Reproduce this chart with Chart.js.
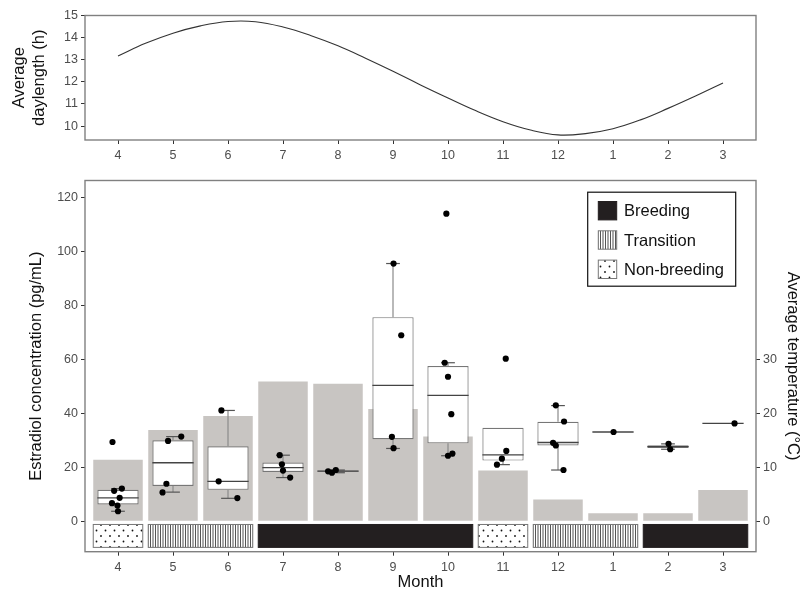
<!DOCTYPE html>
<html>
<head>
<meta charset="utf-8">
<script src="https://cdn.jsdelivr.net/npm/chart.js@4.4.1/dist/chart.umd.min.js"></script>
<style>
  html, body { margin: 0; padding: 0; background: #fff; }
  #wrap { position: relative; width: 806px; height: 592px; }
  #dayWrap { position: absolute; left: 0; top: 0; width: 806px; height: 170px; }
  #mainWrap { position: absolute; left: 0; top: 170px; width: 806px; height: 422px; }
</style>
</head>
<body>
<div id="wrap">
  <div id="dayWrap"><canvas id="dayChart"></canvas></div>
  <div id="mainWrap"><canvas id="mainChart"></canvas></div>
</div>
<script>
// Months on the x axis, April .. March
const months = ['4', '5', '6', '7', '8', '9', '10', '11', '12', '1', '2', '3'];

const dayPos = [0, 0.5, 1, 1.5, 2, 2.5, 3, 3.5, 4, 4.5, 5, 5.5, 6, 6.5, 7, 7.5, 8, 8.5, 9, 9.5, 10, 10.5, 11];
const dayLength = [13.17, 13.74, 14.2, 14.53, 14.73, 14.72, 14.48, 14.1, 13.63, 13.07, 12.48, 11.86,
                   11.27, 10.7, 10.2, 9.82, 9.6, 9.66, 9.88, 10.28, 10.8, 11.36, 11.95];
const dayTicks = [10, 11, 12, 13, 14, 15];

// Bottom panel: average temperature (°C), grey bars on the right axis
const temperature = [11.4, 16.9, 19.5, 25.9, 25.5, 20.8, 15.7, 9.4, 4.05, 1.5, 1.5, 5.8];
const tempTicks = [0, 10, 20, 30];

// Estradiol (pg/mL) box summaries per month
const e2Ticks = [0, 20, 40, 60, 80, 100, 120];
const boxQ1  = [6.25, 13.1, 11.65, 18.3, 18.4, 30.4, 28.9, 22.5, 28.1, 33.1, 27.2, 36.3];
const boxMed = [8.7, 21.7, 14.8, 19.9, 18.6, 50.4, 46.7, 24.6, 29.2, 33.1, 27.7, 36.3];
const boxQ3  = [11.65, 30.0, 27.8, 21.8, 18.8, 75.7, 57.6, 34.7, 36.9, 33.1, 28.2, 36.3];
const whiskLo = [3.7, 10.8, 8.5, 16.2, 18.0, 27.0, 24.3, 21.0, 19.0, null, 26.7, null];
const whiskHi = [12.1, 31.4, 41.1, 24.5, 19.0, 95.6, 58.8, null, 42.9, null, 28.7, null];

// Individual samples and their horizontal jitter (in months)
const e2Samples = [
  [29.4, 11.3, 12.1, 8.7, 6.7, 5.8, 3.7],
  [29.8, 31.4, 13.9, 10.7],
  [41.1, 14.8, 8.6],
  [24.5, 21.1, 18.8, 16.2],
  [18.5, 18.0, 19.0],
  [95.6, 69.0, 31.3, 27.1],
  [114.1, 58.8, 53.6, 39.7, 25.1, 24.3],
  [60.3, 26.1, 23.2, 21.0],
  [43.0, 37.0, 29.1, 28.1, 19.0],
  [33.1],
  [28.7, 26.7],
  [36.3]
];
const e2Jitter = [
  [-0.10, -0.07, 0.07, 0.03, -0.11, -0.01, 0.0],
  [-0.09, 0.15, -0.12, -0.19],
  [-0.12, -0.17, 0.17],
  [-0.06, -0.02, 0.0, 0.13],
  [-0.18, -0.11, -0.04],
  [0.01, 0.15, -0.02, 0.01],
  [-0.03, -0.06, 0.0, 0.06, 0.08, 0.0],
  [0.05, 0.06, -0.02, -0.11],
  [-0.04, 0.11, -0.09, -0.04, 0.10],
  [0.01],
  [0.01, 0.04],
  [0.21]
];

// Reproductive season strip under the bars (month index ranges)
const seasonNames = ['Breeding', 'Transition', 'Non-breeding'];
const seasonFrom = [0, 1, 3, 7, 8, 10];
const seasonTo = [0, 2, 6, 7, 9, 11];
const seasonKind = ['Non-breeding', 'Transition', 'Breeding', 'Non-breeding', 'Transition', 'Breeding'];

const FONT = '"Liberation Sans", Arial, Helvetica, sans-serif';
Chart.defaults.font.family = FONT;
const tickFont = { size: 12.5, family: FONT };
const titleFont = { size: 16.5, family: FONT };
const tickColor = '#4d4d4d';
const titleColor = '#111';
const barGrey = '#c8c5c2';
const breedingColor = '#231f20';

function fixedSize(size) {
    return function (scale) {
        if (scale.isHorizontal()) scale.height = size;
        else scale.width = size;
    };
}

function ticksAt(values) {
    return function (scale) {
        scale.ticks = values.map(v => ({ value: v }));
    };
}

function monthAxis(height, title) {
    return {
        type: 'linear',
        min: -0.6,
        max: 11.6,
        offset: false,
        afterBuildTicks: ticksAt(months.map((m, i) => i)),
        afterFit: fixedSize(height),
        ticks: {
            callback: v => months[Math.round(v)],
            color: tickColor,
            font: tickFont,
            padding: 4,
            maxRotation: 0,
            autoSkip: false
        },
        grid: { offset: false, drawOnChartArea: false, tickLength: 4, color: '#333' },
        border: { display: false },
        title: title ? { display: true, text: title, font: titleFont, color: titleColor, padding: { top: 0, bottom: 0 } } : { display: false }
    };
}

function valueAxis(position, min, max, ticks, width, title, pad) {
    return {
        type: 'linear',
        position: position,
        min: min,
        max: max,
        afterBuildTicks: ticksAt(ticks),
        afterFit: fixedSize(width),
        ticks: { color: tickColor, font: tickFont, padding: 3 },
        grid: { drawOnChartArea: false, tickLength: 4, color: '#333' },
        border: { display: false },
        title: { display: true, text: title, font: titleFont, color: titleColor, padding: { top: pad, bottom: 0 } }
    };
}

// Grey frame round the plotting area
const panelBorder = {
    id: 'panelBorder',
    afterDatasetsDraw(chart) {
        const { ctx, chartArea: a } = chart;
        ctx.save();
        ctx.strokeStyle = '#808080';
        ctx.lineWidth = 1.4;
        ctx.strokeRect(a.left, a.top, a.right - a.left, a.bottom - a.top);
        ctx.restore();
    }
};

function makePattern(kind) {
    if (kind === 'Breeding') return breedingColor;
    const c = document.createElement('canvas');
    const g = c.getContext('2d');
    if (kind === 'Transition') {
        c.width = 5; c.height = 10;
        g.fillStyle = '#fff';
        g.fillRect(0, 0, 5, 10);
        g.fillStyle = '#555';
        g.fillRect(0, 0, 1, 10);
        g.fillRect(2.5, 0, 1, 10);
    } else {
        c.width = 9; c.height = 11;
        g.fillStyle = '#fff';
        g.fillRect(0, 0, 9, 11);
        g.fillStyle = '#111';
        g.beginPath();
        g.arc(2, 3, 0.9, 0, Math.PI * 2);
        g.arc(6.5, 8.5, 0.9, 0, Math.PI * 2);
        g.fill();
    }
    return g.createPattern(c, 'repeat');
}

const seasonFill = {};
seasonNames.forEach(n => { seasonFill[n] = makePattern(n); });

// Season strip below zero
const seasonStrip = {
    id: 'seasonStrip',
    afterDatasetsDraw(chart) {
        const { ctx } = chart;
        const x = chart.scales.x, y = chart.scales.y;
        const top = y.getPixelForValue(-1.2), bottom = y.getPixelForValue(-9.7);
        ctx.save();
        seasonFrom.forEach((from, i) => {
            const x0 = x.getPixelForValue(from - 0.45);
            const x1 = x.getPixelForValue(seasonTo[i] + 0.45);
            ctx.fillStyle = seasonFill[seasonKind[i]];
            ctx.fillRect(x0, top, x1 - x0, bottom - top);
            ctx.strokeStyle = seasonKind[i] === 'Breeding' ? breedingColor : '#777';
            ctx.lineWidth = 1;
            ctx.strokeRect(x0, top, x1 - x0, bottom - top);
        });
        ctx.restore();
    }
};

// Medians and whiskers, drawn right after the box bars
const boxWhiskers = {
    id: 'boxWhiskers',
    afterDatasetDraw(chart, args) {
        if (chart.data.datasets[args.index].label !== 'box') return;
        const { ctx } = chart;
        const x = chart.scales.x, y = chart.scales.y;
        const step = x.getPixelForValue(1) - x.getPixelForValue(0);
        const half = step * 0.75 / 2, cap = step * 0.125;
        ctx.save();
        months.forEach((m, i) => {
            const cx = x.getPixelForValue(i);
            const ends = [[whiskLo[i], boxQ1[i]], [whiskHi[i], boxQ3[i]]];
            ends.forEach(([w, edge]) => {
                if (w === null) return;
                const wy = y.getPixelForValue(w), ey = y.getPixelForValue(edge);
                ctx.strokeStyle = '#8a8a8a';
                ctx.lineWidth = 1.2;
                ctx.beginPath();
                ctx.moveTo(cx, ey);
                ctx.lineTo(cx, wy);
                ctx.stroke();
                ctx.strokeStyle = '#555';
                ctx.beginPath();
                ctx.moveTo(cx - cap, wy);
                ctx.lineTo(cx + cap, wy);
                ctx.stroke();
            });
            const my = y.getPixelForValue(boxMed[i]);
            ctx.strokeStyle = '#444';
            ctx.lineWidth = 1.3;
            ctx.beginPath();
            ctx.moveTo(cx - half, my);
            ctx.lineTo(cx + half, my);
            ctx.stroke();
        });
        ctx.restore();
    }
};

// Legend box inside the top-right corner
const seasonLegend = {
    id: 'seasonLegend',
    afterDraw(chart) {
        const { ctx, chartArea: a } = chart;
        const w = 148, h = 94;
        const x0 = a.right - 20.3 - w, y0 = a.top + 11.7;
        ctx.save();
        ctx.fillStyle = '#fff';
        ctx.fillRect(x0, y0, w, h);
        ctx.strokeStyle = '#111';
        ctx.lineWidth = 1.2;
        ctx.strokeRect(x0, y0, w, h);
        ctx.font = '16.5px ' + FONT;
        ctx.textBaseline = 'middle';
        seasonNames.forEach((name, i) => {
            const cy = y0 + 18.5 + i * 29.3;
            ctx.fillStyle = seasonFill[name];
            ctx.fillRect(x0 + 10.6, cy - 9.2, 18.4, 18.4);
            ctx.strokeStyle = name === 'Breeding' ? breedingColor : '#777';
            ctx.lineWidth = 1;
            ctx.strokeRect(x0 + 10.6, cy - 9.2, 18.4, 18.4);
            ctx.fillStyle = titleColor;
            ctx.fillText(name, x0 + 36.3, cy + 1);
        });
        ctx.restore();
    }
};

// ---- top panel ----
new Chart(document.getElementById('dayChart'), {
    type: 'line',
    data: {
        datasets: [{
            data: dayPos.map((p, i) => ({ x: p, y: dayLength[i] })),
            borderColor: '#333',
            borderWidth: 1.1,
            pointRadius: 0,
            tension: 0.4,
            fill: false
        }]
    },
    options: {
        responsive: true,
        maintainAspectRatio: false,
        animation: false,
        layout: { padding: { top: 15.5, right: 50, left: 0, bottom: 0 } },
        plugins: { legend: { display: false }, tooltip: { enabled: false } },
        scales: {
            x: monthAxis(30, null),
            y: valueAxis('left', 9.37, 15, dayTicks, 85, ['Average', 'daylength (h)'], 9.6)
        }
    },
    plugins: [panelBorder]
});

// ---- bottom panel ----
const samplePoints = [];
e2Samples.forEach((vals, i) => {
    vals.forEach((v, k) => samplePoints.push({ x: i + e2Jitter[i][k], y: v }));
});

new Chart(document.getElementById('mainChart'), {
    type: 'bar',
    data: {
        datasets: [
            {
                label: 'temperature',
                type: 'bar',
                order: 3,
                yAxisID: 'y2',
                data: temperature.map((t, i) => ({ x: i, y: t })),
                backgroundColor: barGrey,
                barPercentage: 0.9,
                categoryPercentage: 1,
                grouped: false
            },
            {
                label: 'box',
                type: 'bar',
                order: 2,
                yAxisID: 'y',
                data: months.map((m, i) => ({ x: i, y: [boxQ1[i], boxQ3[i]] })),
                backgroundColor: '#fff',
                borderColor: '#777',
                borderWidth: 1.2,
                borderSkipped: false,
                barPercentage: 0.75,
                categoryPercentage: 1,
                grouped: false
            },
            {
                label: 'samples',
                type: 'scatter',
                order: 1,
                yAxisID: 'y',
                data: samplePoints,
                pointRadius: 3.1,
                pointBackgroundColor: '#000',
                pointBorderWidth: 0
            }
        ]
    },
    options: {
        responsive: true,
        maintainAspectRatio: false,
        animation: false,
        layout: { padding: { top: 7.3, right: 0, left: 0, bottom: 0 } },
        plugins: { legend: { display: false }, tooltip: { enabled: false } },
        scales: {
            x: monthAxis(40.3, 'Month'),
            y: valueAxis('left', -11.3, 126.4, e2Ticks, 85, 'Estradiol concentration (pg/mL)', 27),
            y2: valueAxis('right', -5.65, 63.2, tempTicks, 50, 'Average temperature (°C)', 4)
        }
    },
    plugins: [boxWhiskers, seasonStrip, panelBorder, seasonLegend]
});
</script>
</body>
</html>
